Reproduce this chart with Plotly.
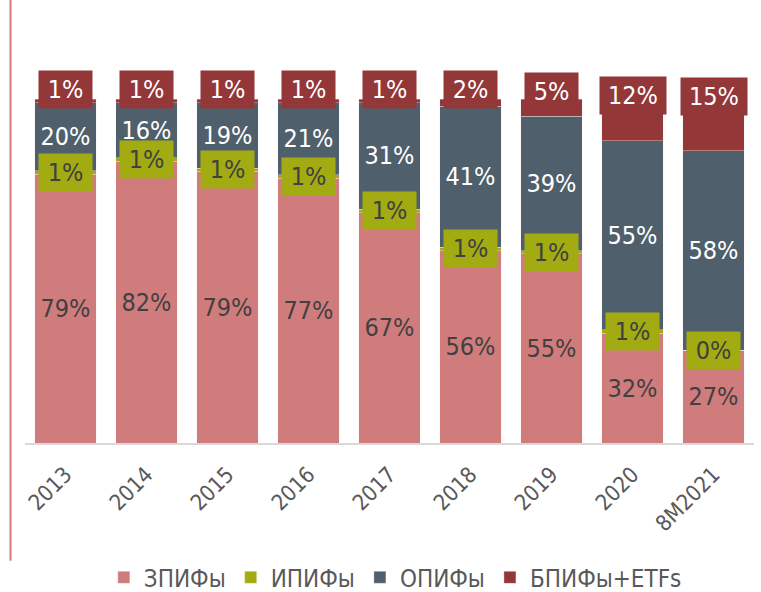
import numpy as np
import plotly.graph_objects as go

categories = ["2013", "2014", "2015", "2016", "2017", "2018", "2019", "2020", "8M2021"]
zpif = [79, 82, 79, 77, 67, 56, 55, 32, 27]
ipif = [1, 1, 1, 1, 1, 1, 1, 1, 0]
opif = [20, 16, 19, 21, 31, 41, 39, 55, 58]
bpif = [1, 1, 1, 1, 1, 2, 5, 12, 15]
series_names = ["ЗПИФы", "ИПИФы", "ОПИФы", "БПИФы+ETFs"]

C_PINK = "#D07C7C"
C_GREEN = "#A2AB12"
C_SLATE = "#4F606C"
C_RED = "#933738"
FONT = "DejaVu Sans Condensed, DejaVu Sans, sans-serif"
LBL = 25

z = np.array(zpif, float)
i = np.array(ipif, float)
o = np.array(opif, float)
b = np.array(bpif, float)
tot = z + i + o + b
zn, inn, on, bn = z / tot * 100, i / tot * 100, o / tot * 100, b / tot * 100

edge = dict(color="rgba(255,235,235,0.6)", width=0.6)
fig = go.Figure()
fig.add_bar(x=categories, y=zpif, name=series_names[0], marker=dict(color=C_PINK, line=edge),
            text=[f"{v}%" for v in zpif], textposition="inside", insidetextanchor="middle",
            textangle=0, constraintext="none",
            textfont=dict(family=FONT, size=LBL, color="#404040"))
fig.add_bar(x=categories, y=ipif, name=series_names[1], marker=dict(color=C_GREEN, line=edge))
fig.add_bar(x=categories, y=opif, name=series_names[2], marker=dict(color=C_SLATE, line=edge),
            text=[f"{v}%" for v in opif], textposition="inside", insidetextanchor="middle",
            textangle=0, constraintext="none",
            textfont=dict(family=FONT, size=LBL, color="white"))
fig.add_bar(x=categories, y=bpif, name=series_names[3], marker=dict(color=C_RED, line=edge))

annotations = []
for k, cat in enumerate(categories):
    t = f"{ipif[k]}%"
    annotations.append(dict(x=k, y=zn[k] + inn[k] / 2, xref="x", yref="y", text=t,
                            showarrow=False, bgcolor=C_GREEN, borderpad=0,
                            width=53 + 13 * (len(t) - 2), height=37,
                            font=dict(family=FONT, size=LBL, color="#404040")))
    t = f"{bpif[k]}%"
    yy = 100 + float(np.clip(3 - 0.15 * bpif[k], 0.5, 3))
    annotations.append(dict(x=k, y=yy, xref="x", yref="y", text=t,
                            showarrow=False, bgcolor=C_RED, borderpad=0,
                            width=53 + 13 * (len(t) - 2), height=37,
                            font=dict(family=FONT, size=LBL, color="white")))

fig.update_layout(
    width=761, height=592,
    margin=dict(l=25, r=7, t=58, b=149, autoexpand=False),
    barmode="stack", barnorm="percent", bargap=0.235,
    plot_bgcolor="white", paper_bgcolor="white",
    font=dict(family=FONT, color="#595959"),
    xaxis=dict(type="category", range=[-0.5, len(categories) - 0.5], tickangle=-45,
               showline=True, linecolor="#D9D9D9", automargin=False,
               linewidth=2, ticks="", showgrid=False, ticklabelstandoff=8,
               tickfont=dict(family=FONT, size=22, color="#595959")),
    yaxis=dict(range=[0, 112], visible=False, showgrid=False),
    legend=dict(orientation="h", x=0.508, xanchor="center", y=-0.35, yanchor="middle",
                font=dict(family=FONT, size=24, color="#595959"), traceorder="normal"),
    annotations=annotations,
    shapes=[dict(type="line", xref="paper", yref="paper", x0=-0.0199, x1=-0.0199,
                 y0=1.151, y1=-0.306, line=dict(color="#D07C7C", width=2))],
    showlegend=True,
)

fig.write_html("out.html", config={"displayModeBar": False},
               post_script="document.body.style.margin='0';")
